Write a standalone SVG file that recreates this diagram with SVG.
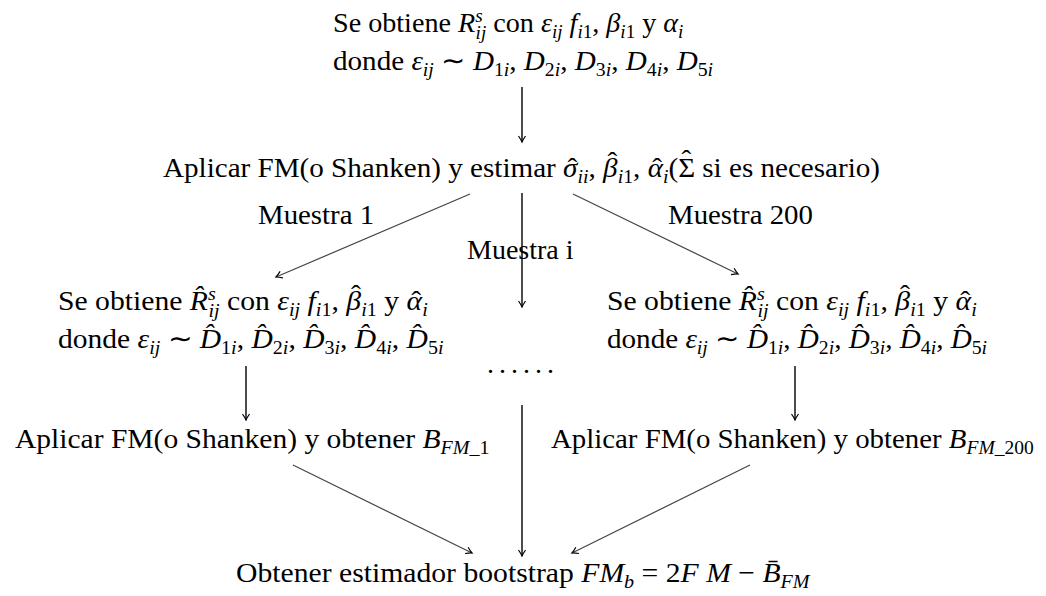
<svg xmlns="http://www.w3.org/2000/svg" width="1046" height="596" viewBox="0 0 1046 596">
<defs>
<style>
.t{font-family:"Liberation Serif","Times New Roman",serif;font-size:28px;fill:#000}
.m{font-style:italic}
.s{font-size:19px}
.v{stroke:#000;stroke-width:1.4;fill:none}
.d{stroke:#444;stroke-width:1.2;fill:none}
</style>
<marker id="ah" viewBox="-8 -5 10 10" refX="0" refY="0" markerWidth="10" markerHeight="10" orient="auto" markerUnits="userSpaceOnUse"><path d="M-6,-3.5 Q-2,-0.8 0,0 Q-2,0.8 -6,3.5" fill="none" stroke="#000" stroke-width="1.2"/></marker>
</defs>
<rect width="1046" height="596" fill="#fff"/>
<g id="connectors">
<line class="v" x1="522" y1="87" x2="522" y2="142" marker-end="url(#ah)"/>
<line class="d" x1="470" y1="194" x2="276" y2="277" marker-end="url(#ah)"/>
<line class="v" x1="522" y1="193" x2="522" y2="307" marker-end="url(#ah)"/>
<line class="d" x1="573" y1="194" x2="738" y2="274" marker-end="url(#ah)"/>
<line class="v" x1="246" y1="366" x2="246" y2="420" marker-end="url(#ah)"/>
<line class="v" x1="795" y1="366" x2="795" y2="420" marker-end="url(#ah)"/>
<line class="v" x1="522" y1="405" x2="522" y2="556" marker-end="url(#ah)"/>
<line class="d" x1="293" y1="465" x2="472" y2="553" marker-end="url(#ah)"/>
<line class="d" x1="750" y1="465" x2="572" y2="553" marker-end="url(#ah)"/>
</g>
<g id="node-top">
<text class="t" transform="translate(333,32) scale(1.005,1)">Se obtiene <tspan class="m">R</tspan><tspan class="m s" dy="-10">s</tspan><tspan class="m s" dx="-7" dy="17">ij</tspan><tspan dy="-7"> con </tspan><tspan class="m">ε</tspan><tspan class="m s" dy="6">ij</tspan><tspan dy="-6"> </tspan><tspan class="m">f</tspan><tspan class="s" dy="6"><tspan class="m">i</tspan>1</tspan><tspan dy="-6">, </tspan><tspan class="m">β</tspan><tspan class="s" dy="6"><tspan class="m">i</tspan>1</tspan><tspan dy="-6"> y </tspan><tspan class="m">α</tspan><tspan class="m s" dy="6">i</tspan></text>
<text class="t" transform="translate(333,70) scale(1.04,1)">donde <tspan class="m">ε</tspan><tspan class="m s" dy="6">ij</tspan><tspan dy="-6"> ∼ </tspan><tspan class="m">D</tspan><tspan class="s" dy="6">1<tspan class="m">i</tspan></tspan><tspan dy="-6">, </tspan><tspan class="m">D</tspan><tspan class="s" dy="6">2<tspan class="m">i</tspan></tspan><tspan dy="-6">, </tspan><tspan class="m">D</tspan><tspan class="s" dy="6">3<tspan class="m">i</tspan></tspan><tspan dy="-6">, </tspan><tspan class="m">D</tspan><tspan class="s" dy="6">4<tspan class="m">i</tspan></tspan><tspan dy="-6">, </tspan><tspan class="m">D</tspan><tspan class="s" dy="6">5<tspan class="m">i</tspan></tspan></text>
</g>
<g id="node-estimate">
<text class="t" transform="translate(163,177) scale(1.04,1)">Aplicar FM(o Shanken) y estimar <tspan class="m">σ</tspan><tspan dx="-9.6">ˆ</tspan><tspan class="m s" dx="0.4" dy="6">ii</tspan><tspan dy="-6">, </tspan><tspan class="m">β</tspan><tspan dx="-9.6" dy="-6">ˆ</tspan><tspan class="s" dx="0.4" dy="12"><tspan class="m">i</tspan>1</tspan><tspan dy="-6">, </tspan><tspan class="m">α</tspan><tspan dx="-10.3">ˆ</tspan><tspan class="m s" dx="1" dy="6">i</tspan><tspan dy="-6">(Σ</tspan><tspan dx="-13" dy="-8">ˆ</tspan><tspan dx="3.6" dy="8"> si es necesario)</tspan></text>
</g>
<g id="labels">
<text class="t" transform="translate(258,224) scale(1.03,1)">Muestra 1</text>
<text class="t" x="467" y="259">Muestra i</text>
<text class="t" transform="translate(668,224) scale(1.03,1)">Muestra 200</text>
</g>
<g id="node-sample-1">
<text class="t" transform="translate(58,310) scale(1.06,1)">Se obtiene <tspan class="m">R̂</tspan><tspan class="m s" dy="-10">s</tspan><tspan class="m s" dx="-7" dy="17">ij</tspan><tspan dy="-7"> con </tspan><tspan class="m">ε</tspan><tspan class="m s" dy="6">ij</tspan><tspan dy="-6"> </tspan><tspan class="m">f</tspan><tspan class="s" dy="6"><tspan class="m">i</tspan>1</tspan><tspan dy="-6">, </tspan><tspan class="m">β</tspan><tspan dx="-9.6" dy="-6">ˆ</tspan><tspan class="s" dx="0.4" dy="12"><tspan class="m">i</tspan>1</tspan><tspan dy="-6"> y </tspan><tspan class="m">α</tspan><tspan dx="-10.3">ˆ</tspan><tspan class="m s" dx="1" dy="6">i</tspan></text>
<text class="t" transform="translate(58,348) scale(1.055,1)">donde <tspan class="m">ε</tspan><tspan class="m s" dy="6">ij</tspan><tspan dy="-6"> ∼ </tspan><tspan class="m">D̂</tspan><tspan class="s" dy="6">1<tspan class="m">i</tspan></tspan><tspan dy="-6">, </tspan><tspan class="m">D̂</tspan><tspan class="s" dy="6">2<tspan class="m">i</tspan></tspan><tspan dy="-6">, </tspan><tspan class="m">D̂</tspan><tspan class="s" dy="6">3<tspan class="m">i</tspan></tspan><tspan dy="-6">, </tspan><tspan class="m">D̂</tspan><tspan class="s" dy="6">4<tspan class="m">i</tspan></tspan><tspan dy="-6">, </tspan><tspan class="m">D̂</tspan><tspan class="s" dy="6">5<tspan class="m">i</tspan></tspan></text>
</g>
<g id="node-sample-i">
<text class="t" x="487" y="373" letter-spacing="5">......</text>
</g>
<g id="node-sample-200">
<text class="t" transform="translate(607,310) scale(1.06,1)">Se obtiene <tspan class="m">R̂</tspan><tspan class="m s" dy="-10">s</tspan><tspan class="m s" dx="-7" dy="17">ij</tspan><tspan dy="-7"> con </tspan><tspan class="m">ε</tspan><tspan class="m s" dy="6">ij</tspan><tspan dy="-6"> </tspan><tspan class="m">f</tspan><tspan class="s" dy="6"><tspan class="m">i</tspan>1</tspan><tspan dy="-6">, </tspan><tspan class="m">β</tspan><tspan dx="-9.6" dy="-6">ˆ</tspan><tspan class="s" dx="0.4" dy="12"><tspan class="m">i</tspan>1</tspan><tspan dy="-6"> y </tspan><tspan class="m">α</tspan><tspan dx="-10.3">ˆ</tspan><tspan class="m s" dx="1" dy="6">i</tspan></text>
<text class="t" transform="translate(607,348) scale(1.04,1)">donde <tspan class="m">ε</tspan><tspan class="m s" dy="6">ij</tspan><tspan dy="-6"> ∼ </tspan><tspan class="m">D̂</tspan><tspan class="s" dy="6">1<tspan class="m">i</tspan></tspan><tspan dy="-6">, </tspan><tspan class="m">D̂</tspan><tspan class="s" dy="6">2<tspan class="m">i</tspan></tspan><tspan dy="-6">, </tspan><tspan class="m">D̂</tspan><tspan class="s" dy="6">3<tspan class="m">i</tspan></tspan><tspan dy="-6">, </tspan><tspan class="m">D̂</tspan><tspan class="s" dy="6">4<tspan class="m">i</tspan></tspan><tspan dy="-6">, </tspan><tspan class="m">D̂</tspan><tspan class="s" dy="6">5<tspan class="m">i</tspan></tspan></text>
</g>
<g id="node-fm-1">
<text class="t" transform="translate(15,448) scale(1.055,1)">Aplicar FM(o Shanken) y obtener <tspan class="m">B</tspan><tspan class="s" dy="6"><tspan class="m">FM</tspan>_1</tspan></text>
</g>
<g id="node-fm-200">
<text class="t" transform="translate(551,448) scale(1.03,1)">Aplicar FM(o Shanken) y obtener <tspan class="m">B</tspan><tspan class="s" dy="6"><tspan class="m">FM</tspan>_200</tspan></text>
</g>
<g id="node-bootstrap">
<text class="t" transform="translate(236,582) scale(1.06,1)">Obtener estimador bootstrap <tspan class="m">FM</tspan><tspan class="m s" dy="6">b</tspan><tspan dy="-6"> = 2</tspan><tspan class="m">F M</tspan><tspan> − </tspan><tspan class="m">B̄</tspan><tspan class="m s" dy="6">FM</tspan></text>
</g>
</svg>
